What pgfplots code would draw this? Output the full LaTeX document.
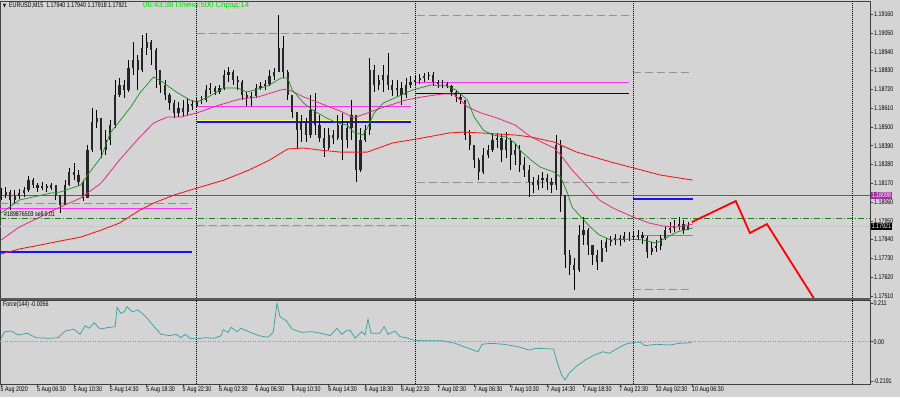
\documentclass[border=0pt]{standalone}
\usepackage{fontspec}
\setmainfont{Liberation Sans}[FakeStretch=0.78]
\newfontfamily\dejavu{DejaVu Sans}[FakeStretch=0.78]
\newfontfamily\wide{Liberation Sans}
\usepackage{pgfplots}
\usepackage{pgfplotstable}
\pgfplotsset{compat=1.18}
\definecolor{bg}{RGB}{212,212,212}
\definecolor{mtpurple}{RGB}{165,45,165}
\definecolor{mtmag}{RGB}{250,50,250}
\definecolor{mtpink}{RGB}{225,45,125}
\definecolor{mtgreen}{RGB}{30,140,30}
\definecolor{mtred}{RGB}{240,30,30}
\definecolor{mtblue}{RGB}{20,20,240}
\definecolor{mtteal}{RGB}{50,160,160}
\definecolor{mtlime}{RGB}{0,220,0}
\definecolor{mtdash}{RGB}{145,145,145}
\newcommand\mt{\fontsize{6.8}{7.5}\selectfont}

\pgfplotstableread{
t o h l c
0 1.18090 1.18142 1.18072 1.18101
2 1.18101 1.18148 1.18084 1.18119
4 1.18119 1.18131 1.18013 1.18072
6 1.18072 1.18131 1.18054 1.18095
8 1.18095 1.18136 1.18078 1.18113
10 1.18113 1.18148 1.18090 1.18131
12 1.18131 1.18213 1.18119 1.18189
14 1.18189 1.18201 1.18142 1.18160
16 1.18160 1.18172 1.18119 1.18142
18 1.18142 1.18177 1.18131 1.18154
20 1.18154 1.18166 1.18119 1.18142
22 1.18142 1.18172 1.18131 1.18160
24 1.18160 1.18160 1.18072 1.18101
26 1.18101 1.18101 1.17996 1.18043
28 1.18043 1.18189 1.18043 1.18160
30 1.18160 1.18260 1.18154 1.18236
32 1.18236 1.18289 1.18189 1.18218
34 1.18218 1.18248 1.18154 1.18177
36 1.18177 1.18189 1.18066 1.18084
38 1.18084 1.18394 1.18084 1.18365
40 1.18365 1.18611 1.18353 1.18529
42 1.18529 1.18599 1.18494 1.18553
44 1.18553 1.18553 1.18318 1.18365
46 1.18365 1.18482 1.18336 1.18424
48 1.18424 1.18541 1.18394 1.18511
50 1.18511 1.18775 1.18494 1.18687
52 1.18687 1.18787 1.18676 1.18746
54 1.18746 1.18775 1.18670 1.18717
56 1.18717 1.18892 1.18705 1.18846
58 1.18846 1.18998 1.18804 1.18892
60 1.18892 1.18922 1.18717 1.18834
62 1.18834 1.19039 1.18822 1.18963
64 1.18963 1.19051 1.18922 1.18998
66 1.18998 1.19010 1.18863 1.18951
68 1.18951 1.18963 1.18728 1.18834
70 1.18834 1.18834 1.18699 1.18746
72 1.18746 1.18775 1.18658 1.18687
74 1.18687 1.18699 1.18599 1.18640
76 1.18640 1.18658 1.18553 1.18582
78 1.18582 1.18646 1.18558 1.18611
80 1.18611 1.18658 1.18558 1.18588
82 1.18588 1.18670 1.18570 1.18635
84 1.18635 1.18658 1.18599 1.18623
86 1.18623 1.18676 1.18611 1.18652
88 1.18652 1.18681 1.18635 1.18658
90 1.18658 1.18746 1.18646 1.18717
92 1.18717 1.18758 1.18693 1.18728
94 1.18728 1.18740 1.18687 1.18705
96 1.18705 1.18746 1.18693 1.18728
98 1.18728 1.18834 1.18717 1.18804
100 1.18804 1.18851 1.18763 1.18822
102 1.18822 1.18834 1.18746 1.18775
104 1.18775 1.18799 1.18717 1.18763
106 1.18763 1.18775 1.18658 1.18687
108 1.18687 1.18705 1.18623 1.18670
110 1.18670 1.18705 1.18623 1.18681
112 1.18681 1.18752 1.18670 1.18728
114 1.18728 1.18763 1.18717 1.18740
116 1.18740 1.18775 1.18717 1.18752
118 1.18752 1.18834 1.18740 1.18799
120 1.18799 1.18846 1.18775 1.18822
122 1.18822 1.19156 1.18822 1.18963
124 1.18963 1.19033 1.18787 1.18822
126 1.18822 1.18834 1.18658 1.18687
128 1.18687 1.18687 1.18553 1.18588
130 1.18588 1.18588 1.18377 1.18482
132 1.18482 1.18570 1.18412 1.18529
134 1.18529 1.18553 1.18412 1.18453
136 1.18453 1.18687 1.18435 1.18599
138 1.18599 1.18699 1.18453 1.18511
140 1.18511 1.18570 1.18412 1.18435
142 1.18435 1.18494 1.18324 1.18377
144 1.18377 1.18494 1.18365 1.18453
146 1.18453 1.18482 1.18400 1.18435
148 1.18435 1.18570 1.18424 1.18511
150 1.18511 1.18582 1.18306 1.18424
152 1.18424 1.18529 1.18377 1.18494
154 1.18494 1.18658 1.18424 1.18570
156 1.18570 1.18570 1.18177 1.18248
158 1.18248 1.18494 1.18236 1.18424
160 1.18424 1.18511 1.18412 1.18482
162 1.18482 1.18904 1.18453 1.18834
164 1.18834 1.18863 1.18705 1.18746
166 1.18746 1.18804 1.18717 1.18775
168 1.18775 1.18863 1.18705 1.18804
170 1.18804 1.18933 1.18717 1.18746
172 1.18746 1.18775 1.18681 1.18717
174 1.18717 1.18775 1.18676 1.18728
176 1.18728 1.18763 1.18629 1.18687
178 1.18687 1.18787 1.18670 1.18746
180 1.18746 1.18799 1.18728 1.18763
182 1.18763 1.18799 1.18740 1.18775
184 1.18775 1.18810 1.18752 1.18787
186 1.18787 1.18816 1.18763 1.18799
188 1.18799 1.18822 1.18775 1.18804
190 1.18804 1.18822 1.18740 1.18763
192 1.18763 1.18775 1.18728 1.18752
194 1.18752 1.18775 1.18728 1.18752
196 1.18752 1.18763 1.18728 1.18740
198 1.18740 1.18746 1.18681 1.18705
200 1.18705 1.18717 1.18646 1.18676
202 1.18676 1.18693 1.18635 1.18658
204 1.18658 1.18658 1.18424 1.18453
206 1.18453 1.18482 1.18365 1.18394
208 1.18394 1.18394 1.18260 1.18306
210 1.18306 1.18318 1.18189 1.18236
212 1.18236 1.18377 1.18224 1.18336
214 1.18336 1.18394 1.18318 1.18365
216 1.18365 1.18465 1.18353 1.18424
218 1.18424 1.18465 1.18377 1.18435
220 1.18435 1.18459 1.18295 1.18365
222 1.18365 1.18470 1.18318 1.18424
224 1.18424 1.18435 1.18248 1.18336
226 1.18336 1.18406 1.18277 1.18365
228 1.18365 1.18394 1.18236 1.18277
230 1.18277 1.18324 1.18207 1.18248
232 1.18248 1.18277 1.18090 1.18177
234 1.18177 1.18207 1.18113 1.18160
236 1.18160 1.18218 1.18131 1.18189
238 1.18189 1.18236 1.18142 1.18201
240 1.18201 1.18224 1.18131 1.18177
242 1.18177 1.18201 1.18113 1.18160
244 1.18160 1.18453 1.18131 1.18394
246 1.18394 1.18424 1.18002 1.18101
248 1.18101 1.18101 1.17674 1.17750
250 1.17750 1.17779 1.17632 1.17691
252 1.17691 1.17732 1.17545 1.17662
254 1.17662 1.17925 1.17650 1.17867
256 1.17867 1.17972 1.17808 1.17896
258 1.17896 1.17908 1.17750 1.17808
260 1.17808 1.17808 1.17691 1.17750
262 1.17750 1.17779 1.17662 1.17709
264 1.17709 1.17838 1.17709 1.17791
266 1.17791 1.17849 1.17767 1.17826
268 1.17826 1.17861 1.17802 1.17838
270 1.17838 1.17873 1.17808 1.17849
272 1.17849 1.17867 1.17802 1.17838
274 1.17838 1.17884 1.17826 1.17861
276 1.17861 1.17884 1.17832 1.17861
278 1.17861 1.17884 1.17838 1.17855
280 1.17855 1.17896 1.17838 1.17867
282 1.17867 1.17884 1.17814 1.17849
284 1.17849 1.17861 1.17732 1.17767
286 1.17767 1.17826 1.17750 1.17791
288 1.17791 1.17838 1.17767 1.17802
290 1.17802 1.17867 1.17779 1.17849
292 1.17849 1.17920 1.17838 1.17896
294 1.17896 1.17943 1.17879 1.17908
296 1.17908 1.17955 1.17884 1.17920
298 1.17920 1.17972 1.17896 1.17931
300 1.17931 1.17955 1.17873 1.17896
302 1.17896 1.17943 1.17896 1.17921
}\candles

\pgfplotstableread{
t v
0 1.17996
8 1.18072
22 1.18113
26 1.18119
35 1.18160
39 1.18236
44 1.18324
48 1.18465
57 1.18617
61 1.18699
67 1.18793
71 1.18763
77 1.18705
83 1.18658
86 1.18646
91 1.18676
98 1.18728
104 1.18728
108 1.18705
113 1.18722
118 1.18746
123 1.18787
126 1.18787
128 1.18717
133 1.18640
137 1.18599
143 1.18553
148 1.18523
152 1.18511
155 1.18470
159 1.18453
161 1.18494
164 1.18582
168 1.18640
174 1.18676
181 1.18717
189 1.18746
196 1.18740
200 1.18717
205 1.18658
208 1.18558
212 1.18482
216 1.18453
222 1.18441
226 1.18406
228 1.18365
233 1.18306
237 1.18265
243 1.18236
246 1.18207
249 1.18113
251 1.18031
255 1.17972
259 1.17914
263 1.17867
268 1.17838
277 1.17843
282 1.17838
288 1.17820
293 1.17855
297 1.17884
302 1.17902
304 1.17908
}\magreen

\pgfplotstableread{
t v
0 1.17838
8 1.17914
17 1.17972
26 1.18031
35 1.18084
44 1.18172
52 1.18306
61 1.18441
67 1.18523
73 1.18558
79 1.18558
86 1.18582
96 1.18629
105 1.18664
113 1.18676
123 1.18717
126 1.18722
133 1.18676
140 1.18640
148 1.18599
151 1.18582
155 1.18553
161 1.18582
167 1.18611
178 1.18658
185 1.18676
194 1.18693
199 1.18693
205 1.18617
211 1.18582
218 1.18553
226 1.18511
233 1.18441
243 1.18377
246 1.18336
251 1.18248
258 1.18148
263 1.18072
269 1.18025
278 1.17972
285 1.17937
291 1.17920
297 1.17914
304 1.17931
}\mapink

\pgfplotstableread{
t v
0 1.17756
8 1.17785
17 1.17808
26 1.17832
35 1.17855
44 1.17896
52 1.17937
61 1.18013
67 1.18054
76 1.18101
86 1.18142
98 1.18189
109 1.18248
118 1.18306
126 1.18371
133 1.18377
140 1.18365
149 1.18353
161 1.18353
172 1.18406
185 1.18435
197 1.18465
203 1.18470
211 1.18465
226 1.18453
233 1.18441
243 1.18412
253 1.18353
268 1.18295
278 1.18260
290 1.18218
304 1.18189
}\mared

\pgfplotstableread{
t v
0 0.0187
1.5 0.0549
4.4 0.0587
7.5 0.0368
11.4 0.0461
15.4 0.0220
21.1 0.0187
25.1 0.0220
28.1 0.0587
32.1 0.0681
34.7 0.0406
36.9 0.0878
38.7 0.0736
40.9 0.1043
43.5 0.0697
46.6 0.0769
50.1 0.0824
51.0 0.1889
52.5 0.1559
54.1 0.1647
55.4 0.1922
57.6 0.1647
60.2 0.1740
62.0 0.1559
64.2 0.1285
67.3 0.0824
70.3 0.0406
74.3 0.0329
76.9 0.0406
79.1 0.0220
80.9 0.0406
83.1 0.0187
85.7 0.0148
89.7 0.0220
93.6 0.0187
96.7 0.0329
97.6 0.0659
99.8 0.0516
101.1 0.0791
103.7 0.0549
105.5 0.0736
109.5 0.0516
113.4 0.0329
117.4 0.0242
119.6 0.0516
121.3 0.2108
122.6 0.1373
125.3 0.1153
127.9 0.0697
131.9 0.0516
136.7 0.0549
140.7 0.0461
144.6 0.0329
147.7 0.0736
149.7 0.0406
151.6 0.0587
153.4 0.0642
155.6 0.0187
158.5 0.0549
160.0 0.0368
161.3 0.1246
162.6 0.0461
166.4 0.0461
168.4 0.0824
170.1 0.0406
173.2 0.0587
175.4 0.0275
178.0 0.0220
181.1 0.0093
184.2 0.0055
193.8 0.0055
199.6 -0.0088
203.5 -0.0275
207.5 -0.0456
209.7 -0.0549
211.4 -0.0143
215.4 -0.0088
221.1 -0.0143
227.3 -0.0275
232.1 -0.0456
235.2 -0.0362
242.9 -0.0401
244.4 -0.1098
246.4 -0.1828
247.9 -0.2103
249.7 -0.1735
252.7 -0.1373
256.7 -0.1005
260.7 -0.0730
264.6 -0.0549
267.3 -0.0637
271.2 -0.0362
274.3 -0.0143
278.2 -0.0033
281.1 -0.0033
283.1 -0.0220
287.9 -0.0143
294.1 -0.0181
298.0 -0.0088
303.7 -0.0056
}\force

\begin{document}
\begin{tikzpicture}
\path[use as bounding box, fill=bg] (0,0) rectangle (900pt,-397pt);

\begin{axis}[
  at={(0pt,-1pt)}, anchor=north west, scale only axis,
  width=870pt, height=297pt,
  xmin=-0.5, xmax=382, ymin=1.17498, ymax=1.19238,
  axis line style={draw=black!75, line width=0.8pt},
  xtick=\empty,
  ytick={1.1751,1.1762,1.1773,1.1784,1.1795,1.1806,1.1817,1.1828,1.1839,1.185,1.1861,1.1872,1.1883,1.1894,1.1905,1.1916},
  yticklabels={1.17510,1.17620,1.17730,1.17840,1.17950,1.18060,1.18170,1.18280,1.18390,1.18500,1.18610,1.18720,1.18830,1.18940,1.19050,1.19160},
  yticklabel pos=right, ytick pos=right, ytick align=outside,
  major tick length=3pt, tick style={black!75, line width=0.6pt},
  yticklabel style={font=\mt, inner sep=1pt},
]
% horizontal objects
\addplot[mtpurple, line width=0.9pt] coordinates {(-0.5,1.18098) (382,1.18098)};
\addplot[mtdash, line width=1pt, dash pattern=on 8pt off 4pt] coordinates {(-0.5,1.18054) (84,1.18054)};
\addplot[mtmag, line width=0.9pt] coordinates {(-0.5,1.18025) (84,1.18025)};
\addplot[black!22, line width=0.6pt] coordinates {(-0.5,1.17920) (382,1.17920)};
\addplot[mtgreen!90!black, line width=0.8pt, dash pattern=on 6pt off 2pt on 1pt off 2pt] coordinates {(-0.5,1.17967) (382,1.17967)};
\addplot[mtblue, line width=1.8pt] coordinates {(-0.5,1.17767) (84,1.17767)};
\addplot[mtdash, line width=1pt, dash pattern=on 8pt off 4pt] coordinates {(86,1.19045) (181,1.19045)};
\addplot[mtmag, line width=0.9pt] coordinates {(86,1.18623) (180,1.18623)};
\addplot[yellow!60, line width=0.6pt] coordinates {(86,1.18540) (180,1.18540)};
\addplot[mtblue, line width=1.8pt] coordinates {(86,1.18529) (180,1.18529)};
\addplot[mtdash, line width=1pt, dash pattern=on 8pt off 4pt] coordinates {(86,1.17925) (181,1.17925)};
\addplot[mtdash, line width=1pt, dash pattern=on 8pt off 4pt] coordinates {(183,1.19156) (276,1.19156)};
\addplot[mtdash, line width=1pt, dash pattern=on 8pt off 4pt] coordinates {(183,1.18172) (276,1.18172)};
\addplot[mtmag, line width=0.9pt] coordinates {(182,1.18763) (276,1.18763)};
\addplot[black!70!blue, line width=0.9pt] coordinates {(182,1.18699) (276,1.18699)};
\addplot[mtdash, line width=1pt, dash pattern=on 8pt off 4pt] coordinates {(278,1.18822) (304,1.18822)};
\addplot[mtblue, line width=1.8pt] coordinates {(278,1.18078) (304,1.18078)};
\addplot[mtmag, line width=0.9pt] coordinates {(282,1.17867) (304,1.17867)};
\addplot[mtdash, line width=1pt, dash pattern=on 8pt off 4pt] coordinates {(278,1.17545) (304,1.17545)};
% candles: wicks and bodies
\addplot[draw=none, mark=none, forget plot,
  error bars/.cd, y dir=plus, y explicit, error mark=none,
  error bar style={draw=black, solid, line width=0.6pt}]
  table[x=t, y=l, y error expr=\thisrow{h}-\thisrow{l}] {\candles};
\addplot[draw=none, mark=none, forget plot,
  error bars/.cd, y dir=plus, y explicit, error mark=none,
  error bar style={draw=black!85, solid, line width=2.2pt}]
  table[x=t, y expr={min(\thisrow{o},\thisrow{c})}, y error expr={abs(\thisrow{c}-\thisrow{o})}] {\candles};
% moving averages
\addplot[mtred, line width=0.9pt] table[x=t, y=v] {\mared};
\addplot[mtpink, line width=0.8pt] table[x=t, y=v] {\mapink};
\addplot[mtgreen, line width=0.7pt] table[x=t, y=v] {\magreen};
% forecast
\addplot[red, line width=1.8pt] coordinates {(303.7,1.17943) (323,1.18066) (329.2,1.17879) (336.7,1.17931) (357.8,1.17486)};
% day separators
\addplot[black, line width=0.6pt, dash pattern=on 1pt off 1pt] coordinates {(86,1.17498) (86,1.19238)};
\addplot[black, line width=0.6pt, dash pattern=on 1pt off 1pt] coordinates {(182,1.17498) (182,1.19238)};
\addplot[black, line width=0.6pt, dash pattern=on 1pt off 1pt] coordinates {(278,1.17498) (278,1.19238)};
\addplot[black, line width=0.6pt, dash pattern=on 1pt off 1pt] coordinates {(374,1.17498) (374,1.19238)};
\end{axis}

\begin{axis}[
  at={(0pt,-300pt)}, anchor=north west, scale only axis,
  width=870pt, height=84pt,
  xmin=-0.5, xmax=382, ymin=-0.2322, ymax=0.2289,
  axis line style={draw=black!75, line width=0.8pt},
  ytick={-0.2191,0,0.211}, yticklabels={-0.2191,0.00,0.211},
  yticklabel pos=right, ytick pos=right, ytick align=outside,
  xtick={0,16,...,304},
  xticklabels={5 Aug 2020,5 Aug 06:30,5 Aug 10:30,5 Aug 14:30,5 Aug 18:30,5 Aug 22:30,6 Aug 02:30,6 Aug 06:30,6 Aug 10:30,6 Aug 14:30,6 Aug 18:30,6 Aug 22:30,7 Aug 02:30,7 Aug 06:30,7 Aug 10:30,7 Aug 14:30,7 Aug 18:30,7 Aug 22:30,10 Aug 02:30,10 Aug 06:30},
  xtick pos=bottom, xtick align=outside,
  major tick length=2.5pt, tick style={black!75, line width=0.6pt},
  yticklabel style={font=\mt, inner sep=1pt},
  xticklabel style={font=\mt, anchor=north west, inner sep=0pt, xshift=-0.6pt, yshift=-0.5pt},
]
\addplot[mtdash, line width=0.8pt, dash pattern=on 1pt off 1.5pt] coordinates {(-0.5,0) (382,0)};
\addplot[black, line width=0.6pt, dash pattern=on 1pt off 1pt] coordinates {(86,-0.2322) (86,0.2289)};
\addplot[black, line width=0.6pt, dash pattern=on 1pt off 1pt] coordinates {(182,-0.2322) (182,0.2289)};
\addplot[black, line width=0.6pt, dash pattern=on 1pt off 1pt] coordinates {(278,-0.2322) (278,0.2289)};
\addplot[black, line width=0.6pt, dash pattern=on 1pt off 1pt] coordinates {(374,-0.2322) (374,0.2289)};
\addplot[mtteal, line width=0.7pt] table[x=t, y=v] {\force};
\end{axis}

\fill[black!65] (0,-297.6pt) rectangle (870pt,-300.2pt);
\node[anchor=west, inner sep=0pt, font=\mt] at (3pt,-5.6pt) {{\dejavu\fontsize{5}{6}\selectfont ▼}\ \ EURUSD,M15\ \ 1.17940 1.17940 1.17918 1.17921};
\node[anchor=west, inner sep=0pt, text=mtlime] at (143pt,-5.6pt) {\wide\fontsize{7.8}{8.5}\selectfont 06:43:38 Плечо:500 Спрэд:14};
\node[anchor=west, inner sep=0pt, font=\mt] at (4pt,-214.5pt) {\#189876503 sell 0.01};
\node[anchor=west, inner sep=0pt, font=\mt] at (3pt,-305pt) {Force(144) -0.0056};
\node[anchor=west, inner sep=0.6pt, fill=mtpurple, text=white, font=\mt, minimum height=7pt] at (871pt,-195.6pt) {1.18098};
\node[anchor=west, inner sep=0.6pt, fill=black, text=white, font=\mt, minimum height=6.5pt] at (871pt,-226.3pt) {1.17921};
\end{tikzpicture}
\end{document}
